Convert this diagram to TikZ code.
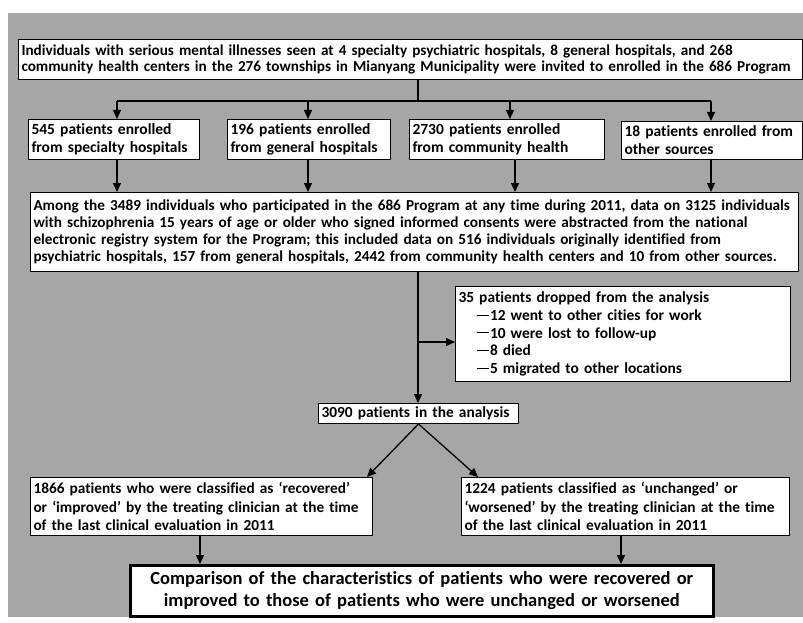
\documentclass[tikz,border=0pt]{standalone}
\usepackage{fontspec}
\setmainfont{Carlito}[Ligatures=NoCommon]
\usetikzlibrary{arrows.meta}
\definecolor{bggray}{RGB}{166,166,166}
\newcommand\fsz[2]{\fontsize{#1}{#2}\selectfont}
\newcommand\dropdash{\hspace*{18pt}\rule[0.33em]{12pt}{0.7pt}\hspace{1.5pt}}
\begin{document}
\begin{tikzpicture}[x=1pt,y=-1pt,
  box/.style={draw=black, fill=white, line width=1pt, anchor=north west, align=left,
    inner xsep=3pt, inner ysep=0pt, font=\bfseries},
  arr/.style={line width=1.3pt, -{Triangle[length=9pt,width=8pt]}},
  ln/.style={line width=1.3pt}]
\useasboundingbox (0,0) rectangle (803,623);
\fill[white] (0,0) rectangle (803,623);
\fill[bggray] (8,13) rectangle (803,617);

% boxes
\node[box, minimum width=784pt, text width=778pt, minimum height=40pt,
  font=\bfseries\fsz{15.2}{16.8}] (top) at (18,39)
  {Individuals with serious mental illnesses seen at 4 specialty psychiatric hospitals, 8 general hospitals, and 268\\
   community health centers in the 276 townships in Mianyang Municipality were invited to enrolled in the 686 Program};

\node[box, minimum width=171pt, text width=165pt, minimum height=40pt,
  font=\bfseries\fsz{15.5}{18}] (b1) at (28,119)
  {545 patients enrolled\\ from specialty hospitals};
\node[box, minimum width=163pt, text width=157pt, minimum height=40pt,
  font=\bfseries\fsz{15.5}{18}] (b2) at (227,119)
  {196 patients enrolled\\ from general hospitals};
\node[box, minimum width=195pt, text width=189pt, minimum height=40pt,
  font=\bfseries\fsz{15.5}{18}] (b3) at (409,119)
  {2730 patients enrolled\\ from community health};
\node[box, minimum width=181pt, text width=175pt, minimum height=38pt,
  font=\bfseries\fsz{15.5}{18}] (b4) at (621,121)
  {18 patients enrolled from\\ other sources};

\node[box, minimum width=768pt, text width=762pt, minimum height=79pt,
  font=\bfseries\fsz{15.25}{16.8}] (big) at (30,192)
  {Among the 3489 individuals who participated in the 686 Program at any time during 2011, data on 3125 individuals\\
   with schizophrenia 15 years of age or older who signed informed consents were abstracted from the national\\
   electronic registry system for the Program; this included data on 516 individuals originally identified from\\
   psychiatric hospitals, 157 from general hospitals, 2442 from community health centers and 10 from other sources.};

\node[box, minimum width=335pt, text width=329pt, minimum height=95pt,
  font=\bfseries\fsz{15.4}{17.6}] (drop) at (455,286)
  {35 patients dropped from the analysis\\
   \dropdash 12 went to other cities for work\\
   \dropdash 10 were lost to follow-up\\
   \dropdash 8 died\\
   \dropdash 5 migrated to other locations};

\node[box, minimum width=200pt, text width=194pt, minimum height=20pt,
  font=\bfseries\fsz{15.4}{18}] (ana) at (318,403)
  {3090 patients in the analysis};

\node[box, minimum width=342pt, text width=336pt, minimum height=58pt,
  font=\bfseries\fsz{15.3}{18.5}] (lft) at (30,477)
  {1866 patients who were classified as ‘recovered’\\
   or ‘improved’ by the treating clinician at the time\\
   of the last clinical evaluation in 2011};
\node[box, minimum width=328pt, text width=322pt, minimum height=58pt,
  font=\bfseries\fsz{15.4}{18.5}] (rgt) at (461,477)
  {1224 patients classified as ‘unchanged’ or\\
   ‘worsened’ by the treating clinician at the time\\
   of the last clinical evaluation in 2011};

\node[box, line width=2.6pt, align=center, minimum width=583pt, text width=577pt, minimum height=51pt,
  font=\bfseries\fsz{18.5}{22.5}] (fin) at (129,564)
  {Comparison of the characteristics of patients who were recovered or\\
   improved to those of patients who were unchanged or worsened};

% helper coordinates
\coordinate (j) at (418,101);
\coordinate (x1) at (117,0);
\coordinate (x2) at (308,0);
\coordinate (x3) at (510,0);
\coordinate (x3b) at (515,0);
\coordinate (x4) at (711,0);
\coordinate (br) at (418,342);
\coordinate (xl) at (367,0);
\coordinate (xr) at (478,0);
\coordinate (xlb) at (200,0);
\coordinate (xrb) at (621,0);

% connectors
\draw[ln] (top.south -| j) -- (j);
\draw[ln] (j -| x1) -- (j -| x4);
\draw[arr] (j -| x1) -- (b1.north -| x1);
\draw[arr] (j -| x2) -- (b2.north -| x2);
\draw[arr] (j -| x3) -- (b3.north -| x3);
\draw[arr] (j -| x4) -- (b4.north -| x4);

\draw[arr] (b1.south -| x1) -- (big.north -| x1);
\draw[arr] (b2.south -| x2) -- (big.north -| x2);
\draw[arr] (b3.south -| x3b) -- (big.north -| x3b);
\draw[arr] (b4.south -| x4) -- (big.north -| x4);

\draw[arr] (big.south -| j) -- (ana.north -| j);
\draw[arr] (br) -- (br -| drop.west);

\draw[arr] (ana.south) -- (lft.north -| xl);
\draw[arr] (ana.south) -- (rgt.north -| xr);

\draw[arr] (lft.south -| xlb) -- (fin.north -| xlb);
\draw[arr] (rgt.south -| xrb) -- (fin.north -| xrb);
\end{tikzpicture}
\end{document}
